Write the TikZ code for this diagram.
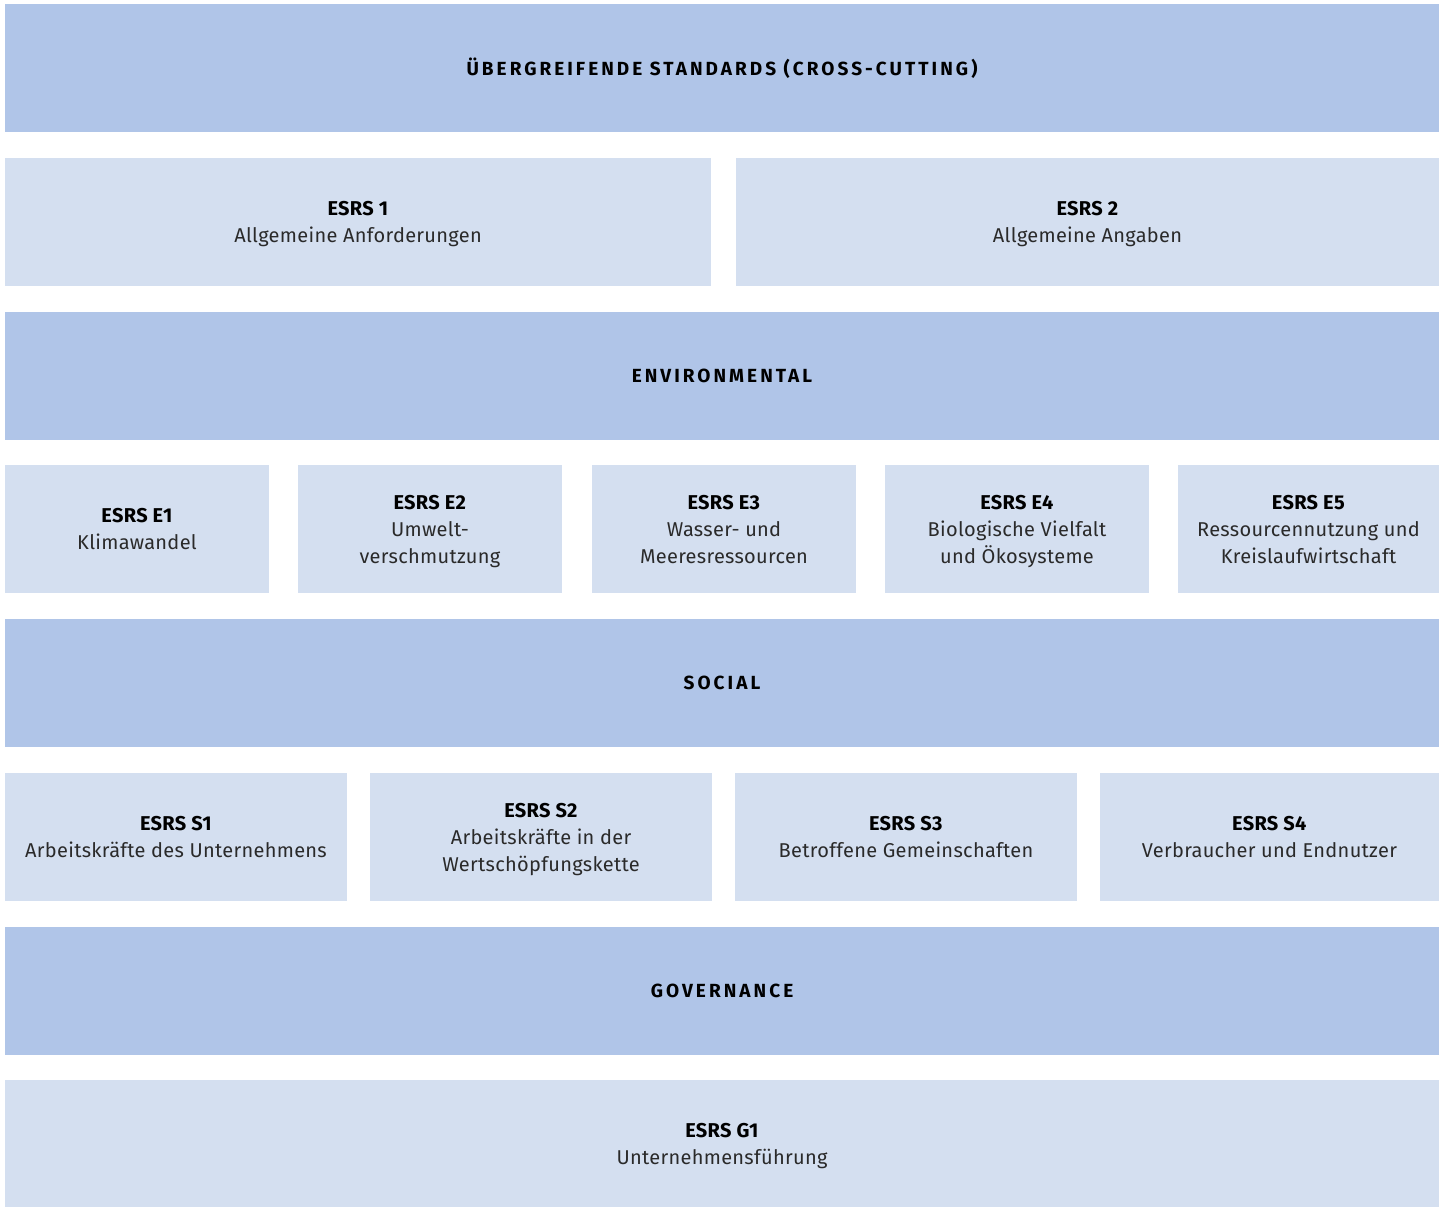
\documentclass[tikz,border=0pt]{standalone}
\usepackage{fontspec}
\setmainfont{Fira Sans}
\usepackage{tikz}
\usepackage{xcolor}
\definecolor{bandblue}{HTML}{B0C5E8}
\definecolor{paleblue}{HTML}{D4DFF0}
\definecolor{bodygray}{HTML}{2A2A2A}
\newcommand{\bandtitle}[1]{{\addfontfeature{LetterSpace=16}\bfseries #1}}

\begin{document}
\begin{tikzpicture}[x=1pt,y=-1pt,
  band/.style={fill=bandblue,inner sep=0pt,minimum width=1434pt,minimum height=128pt,
    font=\fontsize{19}{22}\selectfont},
  tile/.style={fill=paleblue,inner sep=0pt,minimum height=128pt,align=center,
    text depth=0pt,text=bodygray,
    font=\fontsize{20}{27}\selectfont\addfontfeature{LetterSpace=1.5}}]
  \useasboundingbox (0,0) rectangle (1439,1207);

  % cross-cutting
  \node[band] (cross) at (722,68) {\bandtitle{ÜBERGREIFENDE STANDARDS (CROSS-CUTTING)}};
  \node[tile,minimum width=706pt] (esrsone) at (358,222)
    {\textcolor{black}{\textbf{ESRS 1}}\\Allgemeine Anforderungen};
  \node[tile,minimum width=703pt] (esrstwo) at (1087.5,222)
    {\textcolor{black}{\textbf{ESRS 2}}\\Allgemeine Angaben};

  % environmental
  \node[band] (env) at (722,376) {\bandtitle{ENVIRONMENTAL}};
  \node[tile,minimum width=264pt] (eone) at (137,529)
    {\textcolor{black}{\textbf{ESRS E1}}\\Klimawandel};
  \node[tile,minimum width=264pt] (etwo) at (430,529)
    {\textcolor{black}{\textbf{ESRS E2}}\\Umwelt-\\verschmutzung};
  \node[tile,minimum width=264pt] (ethree) at (724,529)
    {\textcolor{black}{\textbf{ESRS E3}}\\Wasser- und\\Meeresressourcen};
  \node[tile,minimum width=264pt] (efour) at (1017,529)
    {\textcolor{black}{\textbf{ESRS E4}}\\Biologische Vielfalt\\und Ökosysteme};
  \node[tile,minimum width=261pt] (efive) at (1308.5,529)
    {\textcolor{black}{\textbf{ESRS E5}}\\Ressourcennutzung und\\Kreislaufwirtschaft};

  % social
  \node[band] (social) at (722,683) {\bandtitle{SOCIAL}};
  \node[tile,minimum width=342pt] (sone) at (176,837)
    {\textcolor{black}{\textbf{ESRS S1}}\\Arbeitskräfte des Unternehmens};
  \node[tile,minimum width=342pt] (stwo) at (541,837)
    {\textcolor{black}{\textbf{ESRS S2}}\\Arbeitskräfte in der\\Wertschöpfungskette};
  \node[tile,minimum width=342pt] (sthree) at (906,837)
    {\textcolor{black}{\textbf{ESRS S3}}\\Betroffene Gemeinschaften};
  \node[tile,minimum width=339pt] (sfour) at (1269.5,837)
    {\textcolor{black}{\textbf{ESRS S4}}\\Verbraucher und Endnutzer};

  % governance
  \node[band] (gov) at (722,991) {\bandtitle{GOVERNANCE}};
  \node[tile,minimum width=1434pt,minimum height=127pt] (gone) at (722,1143.5)
    {\textcolor{black}{\textbf{ESRS G1}}\\Unternehmensführung};
\end{tikzpicture}
\end{document}
